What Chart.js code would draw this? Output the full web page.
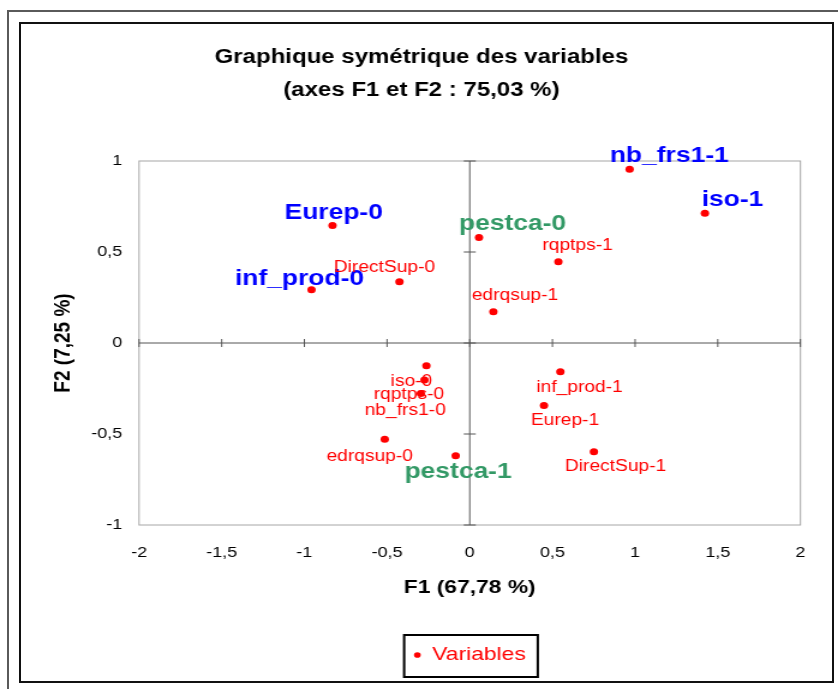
<!DOCTYPE html>
<html lang="fr">
<head>
<meta charset="utf-8">
<title>Graphique symétrique des variables</title>
<script src="https://cdn.jsdelivr.net/npm/chart.js@4.4.1/dist/chart.umd.min.js"></script>
<style>
  html, body { margin: 0; padding: 0; background: #fff; }
  #page { position: relative; width: 838px; height: 689px; overflow: hidden; }
  #cadreExt { position: absolute; left: 7px; top: 10px; width: 840px; height: 700px; border: 2px solid #5a5a5a; }
  #cadreInt { position: absolute; left: 19px; top: 22px; width: 815px; height: 661px; border: 2px solid #111; box-sizing: border-box; }
  /* le graphique d'origine est étiré horizontalement */
  #zone { position: absolute; left: 0; top: 0; width: 698px; height: 689px; transform: scaleX(1.2006); transform-origin: 0 0; }
</style>
</head>
<body>
<div id="page">
  <div id="cadreExt"></div>
  <div id="cadreInt"></div>
  <div id="zone"><canvas id="graphique" width="698" height="689"></canvas></div>
</div>
<script>
// Données (F1, F2)
const nomsVariables = ['Eurep-0', 'inf_prod-0', 'DirectSup-0', 'pestca-0', 'rqptps-1', 'edrqsup-1', 'nb_frs1-1', 'iso-1',
                       'iso-0', 'rqptps-0', 'nb_frs1-0', 'edrqsup-0', 'pestca-1', 'inf_prod-1', 'Eurep-1', 'DirectSup-1'];
const coordF1 = [-0.83, -0.957, -0.425, 0.056, 0.536, 0.143, 0.967, 1.422,
                 -0.262, -0.274, -0.296, -0.514, -0.085, 0.548, 0.449, 0.751];
const coordF2 = [0.645, 0.293, 0.337, 0.579, 0.447, 0.172, 0.954, 0.713,
                 -0.125, -0.203, -0.277, -0.529, -0.619, -0.158, -0.344, -0.597];
// groupe de l'étiquette : 'b' = bleu, 'v' = vert, 'r' = rouge
const groupeEtiquette = ['b', 'b', 'r', 'v', 'r', 'r', 'b', 'b', 'r', 'r', 'r', 'r', 'v', 'r', 'r', 'r'];
const ticksF1 = [-2, -1.5, -1, -0.5, 0, 0.5, 1, 1.5, 2];
const ticksF2 = [-1, -0.5, 0, 0.5, 1];

const POLICE = "'Liberation Sans', Arial, sans-serif";

// Décalage des étiquettes par rapport au point (px)
const decalages = [[1, -13], [-10, -11], [-12.5, -14], [28, -14], [16, -16], [18, -16], [33, -13], [23, -13],
                   [-12.5, 16], [-13, 15], [-13, 17], [-12.5, 17], [2, 16], [16, 16], [17.5, 15], [18, 15]];

const stylesEtiquette = {
    b: { font: `bold 22px ${POLICE}`, color: '#0000ff' },
    v: { font: `bold 22px ${POLICE}`, color: '#339966' },
    r: { font: `16px ${POLICE}`, color: '#ff0000' }
};

function formaterNombre(v) {
    return String(v).replace('.', ',');
}

// Cadre de la zone de traçage + axes passant par l'origine
const pluginAxes = {
    id: 'axesOrigine',
    beforeDatasetsDraw(chart) {
        const { ctx, chartArea: a, scales: { x, y } } = chart;
        const x0 = x.getPixelForValue(0);
        const y0 = y.getPixelForValue(0);
        ctx.save();
        ctx.strokeStyle = '#a6a6a6';
        ctx.lineWidth = 1;
        ctx.strokeRect(a.left, a.top, a.right - a.left, a.bottom - a.top);

        ctx.strokeStyle = '#555';
        ctx.beginPath();
        ctx.moveTo(a.left, y0); ctx.lineTo(a.right, y0);
        ctx.moveTo(x0, a.top); ctx.lineTo(x0, a.bottom);
        ticksF1.forEach(v => {
            const px = x.getPixelForValue(v);
            ctx.moveTo(px, y0 - 4); ctx.lineTo(px, y0 + 4);
        });
        ticksF2.forEach(v => {
            const py = y.getPixelForValue(v);
            ctx.moveTo(x0 - 5, py); ctx.lineTo(x0 + 5, py);
        });
        ctx.stroke();
        ctx.restore();
    }
};

const pluginEtiquettes = {
    id: 'etiquettes',
    afterDatasetsDraw(chart) {
        const ctx = chart.ctx;
        const meta = chart.getDatasetMeta(0);
        ctx.save();
        ctx.textAlign = 'center';
        ctx.textBaseline = 'middle';
        meta.data.forEach((pt, i) => {
            const st = stylesEtiquette[groupeEtiquette[i]];
            ctx.font = st.font;
            ctx.fillStyle = st.color;
            ctx.fillText(nomsVariables[i], pt.x + decalages[i][0], pt.y + decalages[i][1]);
        });
        ctx.restore();
    }
};

// Cadre noir autour de la légende
const pluginCadreLegende = {
    id: 'cadreLegende',
    afterDraw(chart) {
        const hb = chart.legend && chart.legend.legendHitBoxes && chart.legend.legendHitBoxes[0];
        if (!hb) return;
        const ctx = chart.ctx;
        const cy = hb.top + hb.height / 2;
        ctx.save();
        ctx.strokeStyle = '#000';
        ctx.lineWidth = 2;
        ctx.strokeRect(hb.left - 8, cy - 20, hb.width + 18, 42);
        ctx.restore();
    }
};

const points = coordF1.map((v, i) => ({ x: v, y: coordF2[i] }));

new Chart(document.getElementById('graphique'), {
    type: 'scatter',
    data: {
        datasets: [{
            label: 'Variables',
            data: points,
            backgroundColor: '#ff0000',
            borderWidth: 0,
            pointRadius: 3.5,
            pointHoverRadius: 3.5
        }]
    },
    options: {
        responsive: false,
        animation: false,
        devicePixelRatio: 1,
        layout: { padding: { left: 35.3, right: 31.3, top: 0, bottom: 14.5 } },
        plugins: {
            title: {
                display: true,
                text: ['Graphique symétrique des variables', '(axes F1 et F2 : 75,03 %)'],
                color: '#000',
                font: { family: POLICE, size: 20, weight: 'bold', lineHeight: 1.65 },
                padding: { top: 40.5, bottom: 54.5 }
            },
            legend: {
                position: 'bottom',
                fullSize: false,
                labels: {
                    usePointStyle: true,
                    pointStyle: 'circle',
                    boxWidth: 6,
                    boxHeight: 4,
                    padding: 40.5,
                    color: '#ff0000',
                    font: { family: POLICE, size: 19 }
                }
            },
            tooltip: { enabled: false }
        },
        scales: {
            x: {
                type: 'linear',
                min: -2,
                max: 2,
                afterFit(scale) { scale.height = 80; },
                afterBuildTicks(scale) { scale.ticks = ticksF1.map(v => ({ value: v })); },
                grid: { display: false },
                border: { display: false },
                ticks: {
                    color: '#000',
                    padding: 10.5,
                    maxRotation: 0,
                    font: { family: POLICE, size: 15 },
                    callback: v => formaterNombre(v)
                },
                title: {
                    display: true,
                    text: 'F1 (67,78 %)',
                    color: '#000',
                    font: { family: POLICE, size: 19, weight: 'bold' },
                    padding: { top: 0, bottom: 5.6 }
                }
            },
            y: {
                type: 'linear',
                min: -1,
                max: 1,
                afterFit(scale) { scale.width = 80.5; },
                afterBuildTicks(scale) { scale.ticks = ticksF2.map(v => ({ value: v })); },
                grid: { display: false },
                border: { display: false },
                ticks: {
                    color: '#000',
                    padding: 6,
                    font: { family: POLICE, size: 15 },
                    callback: v => formaterNombre(v)
                },
                title: {
                    display: true,
                    text: 'F2 (7,25 %)',
                    color: '#000',
                    font: { family: POLICE, size: 19, weight: 'bold' },
                    padding: { top: 5.8, bottom: 0 }
                }
            }
        }
    },
    plugins: [pluginAxes, pluginEtiquettes, pluginCadreLegende]
});
</script>
</body>
</html>
